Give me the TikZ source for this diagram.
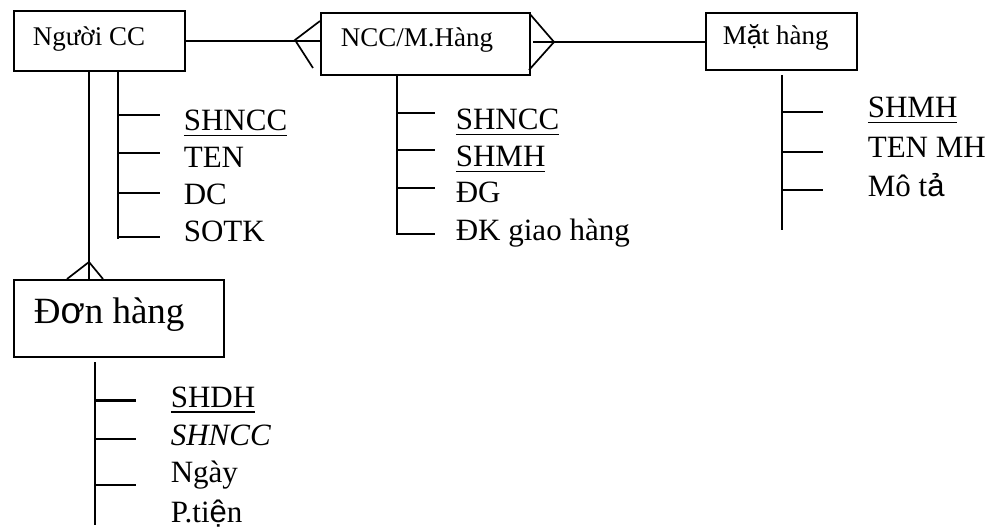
\documentclass[tikz,border=0pt]{standalone}
\usepackage{fontspec}
\setmainfont{Liberation Serif}
\newfontfamily\fbfont{Liberation Sans}
% glyphs set in the fallback sans face
\newcommand\fb[1]{{\fbfont #1}}
% underlined key attribute
\newcommand\keyattr[1]{\setbox0\hbox{#1}\rlap{\rule[-5.5pt]{\wd0}{1.6pt}}\box0}
\begin{document}
\begin{tikzpicture}[x=1pt,y=-1pt,line width=1.7pt,
  entbox/.style={draw,line width=1.7pt,inner sep=0pt,anchor=north west},
  entname/.style={anchor=base west,inner sep=0pt,font=\fontsize{27}{30}\selectfont},
  attr/.style={anchor=base west,inner sep=0pt,font=\fontsize{31}{34}\selectfont},
  tick/.style={line width=1.7pt}]
\useasboundingbox (0,0) rectangle (990,529);

% entity boxes
\node[entbox,minimum width=171pt,minimum height=60pt] (nguoi) at (13,10) {};
\node[entbox,minimum width=209pt,minimum height=62pt] (ncc) at (320,12) {};
\node[entbox,minimum width=151pt,minimum height=57pt] (mh) at (705,12) {};
\node[entbox,minimum width=210pt,minimum height=77pt] (dh) at (13,279) {};

% entity names
\node[entname] (nguoiT) at (32,46) {Người CC};
\node[entname] (nccT) at (340,47) {NCC/M.Hàng};
\node[entname] (mhT) at (722,45) {M\fb{ặ}t hàng};
\node[anchor=base west,inner sep=0pt,font=\fontsize{37}{40}\selectfont] (dhT) at (33,323) {Đ\fb{ơ}n hàng};

% Người CC -- NCC/M.Hàng (many side at NCC/M.Hàng)
\coordinate (lcfA) at (295,40);
\coordinate (lcfU) at (320,21);
\coordinate (lcfL) at (313,68);
\draw (nguoi.east) -- (nguoi.east -| ncc.west);
\draw (lcfU) -- (lcfA) -- (lcfL);

% NCC/M.Hàng -- Mặt hàng (many side at NCC/M.Hàng)
\coordinate (rcfA) at (554,42);
\coordinate (rcfU) at (529,13);
\coordinate (rcfL) at (529,70);
\coordinate (rcfS) at (533,42);
\draw (rcfU) -- (rcfA) -- (rcfL);
\draw (rcfS) -- (mh.west |- rcfS);

% Người CC -- Đơn hàng (many side at Đơn hàng)
\coordinate (nv) at (89,262);
\coordinate (dcfL) at (67,279);
\coordinate (dcfR) at (103,279);
\draw (nguoi.south -| nv) -- (dh.north -| nv);
\draw (dcfL) -- (nv) -- (dcfR);

% attributes of Người CC
\coordinate (ncEnd) at (118,239);
\draw (nguoi.south -| ncEnd) -- (ncEnd);
\foreach \y in {115,153,193,237} \draw[tick] (118,\y) -- (160,\y);
\node[attr] (nc1) at (183,131) {\keyattr{SHNCC}};
\node[attr] (nc2) at (183,168) {TEN};
\node[attr] (nc3) at (183,205) {DC};
\node[attr] (nc4) at (183,242) {SOTK};

% attributes of NCC/M.Hàng
\coordinate (cmEnd) at (397,235);
\draw (ncc.south -| cmEnd) -- (cmEnd);
\foreach \y in {113,150,188,234} \draw[tick] (397,\y) -- (435,\y);
\node[attr] (cm1) at (455,130) {\keyattr{SHNCC}};
\node[attr] (cm2) at (455,167) {\keyattr{SHMH}};
\node[attr] (cm3) at (455,203) {ĐG};
\node[attr] (cm4) at (455,241) {ĐK giao hàng};

% attributes of Mặt hàng
\draw (782,75) -- (782,230);
\foreach \y in {112,152,190} \draw[tick] (782,\y) -- (823,\y);
\node[attr] (mh1) at (867,118) {\keyattr{SHMH}};
\node[attr] (mh2) at (867,158) {TEN MH};
\node[attr] (mh3) at (867,197) {Mô t\fb{ả}};

% attributes of Đơn hàng
\draw (95,362) -- (95,525);
\draw[line width=3pt] (95,400) -- (136,400);
\foreach \y in {439,485} \draw[tick] (95,\y) -- (136,\y);
\node[attr] (dh1) at (170,407) {\keyattr{SHDH}};
\node[attr] (dh2) at (170,445) {\itshape SHNCC};
\node[attr] (dh3) at (170,482) {Ngày};
\node[attr] (dh4) at (170,522) {P.ti\fb{ệ}n};
\end{tikzpicture}
\end{document}
